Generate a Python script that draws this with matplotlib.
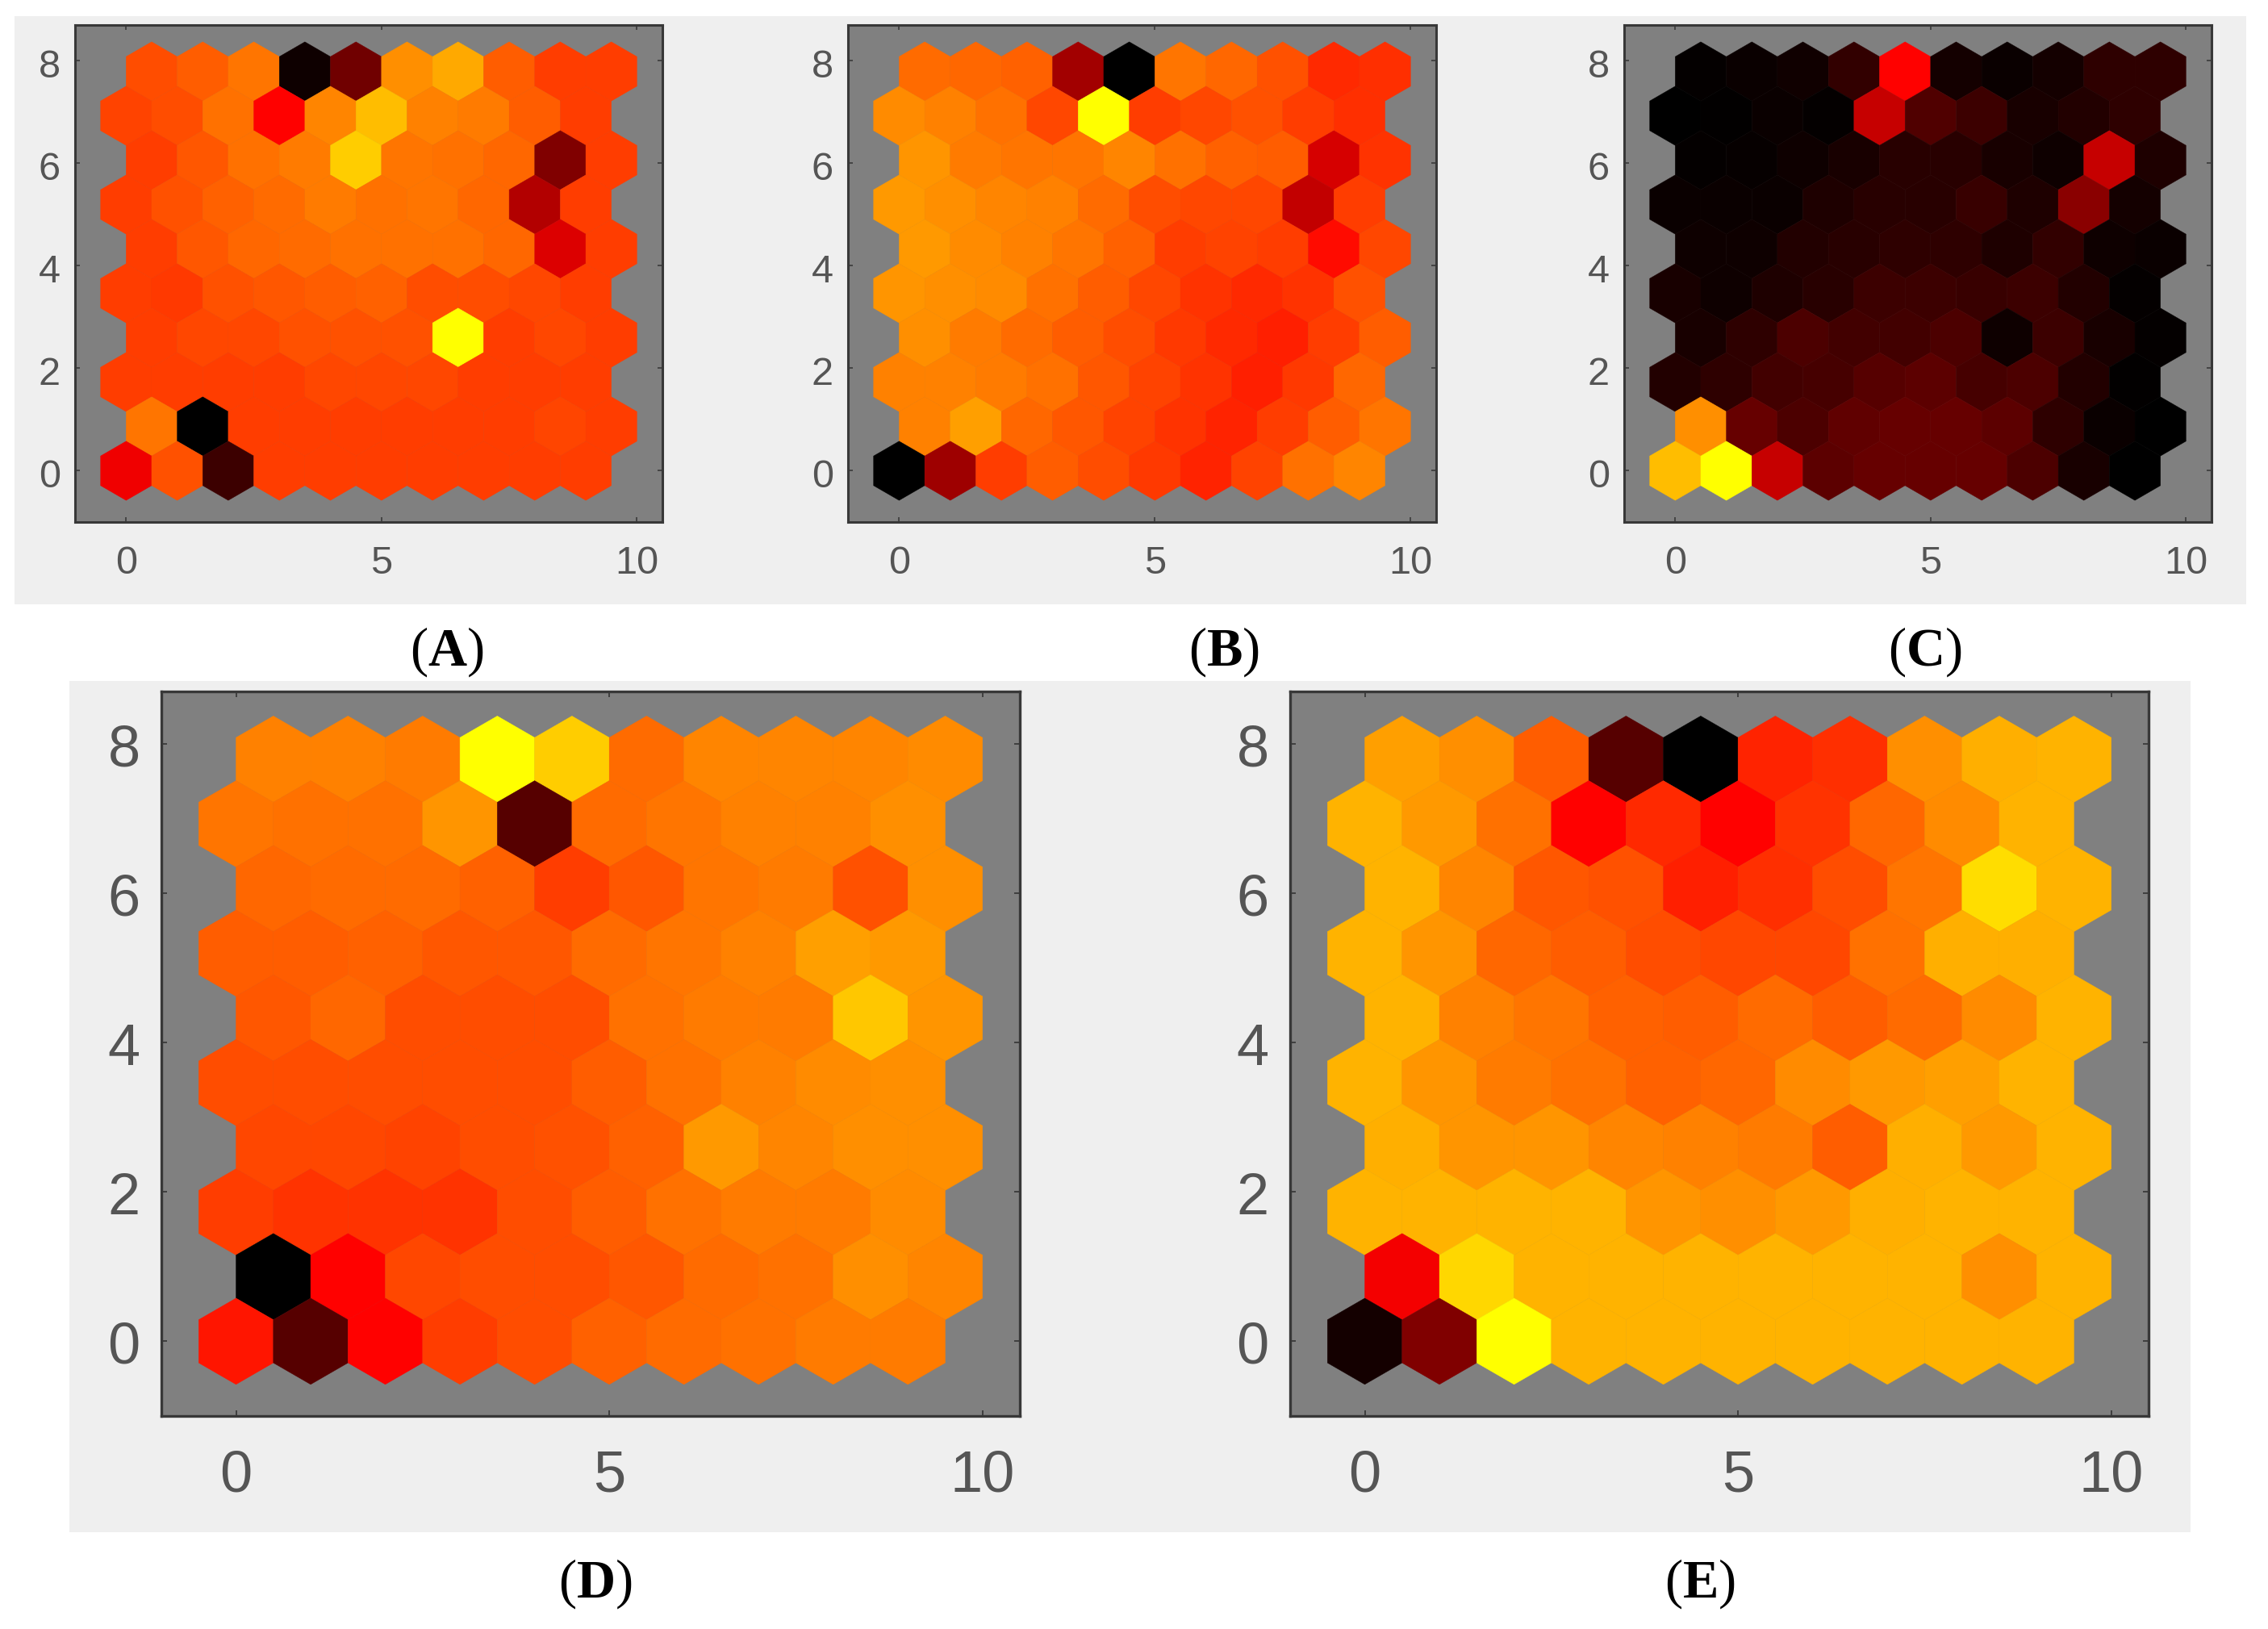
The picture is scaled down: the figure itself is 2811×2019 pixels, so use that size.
import numpy as np
import matplotlib
matplotlib.use("Agg")
import matplotlib.pyplot as plt
from matplotlib.collections import PatchCollection
from matplotlib.colors import LinearSegmentedColormap
from matplotlib.patches import Rectangle, RegularPolygon
from matplotlib.transforms import ScaledTranslation

W, H = 2811, 2019

plt.rcParams['font.family'] = ['Liberation Sans', 'DejaVu Sans']
plt.rcParams['mathtext.fontset'] = 'custom'
plt.rcParams['mathtext.bf'] = 'Liberation Serif:bold'
plt.rcParams['mathtext.rm'] = 'Liberation Serif'

# node values on a 0-100 scale, rows listed from the top of the map to the bottom
panel_a = [
    [65, 68, 73, 3, 22, 78, 83, 68, 62, 62],
    [63, 65, 72, 50, 76, 87, 75, 74, 68, 62],
    [62, 67, 72, 74, 90, 73, 72, 70, 25, 62],
    [62, 66, 69, 71, 74, 72, 73, 70, 35, 62],
    [62, 67, 70, 71, 72, 72, 72, 70, 43, 62],
    [62, 61, 66, 67, 68, 69, 65, 65, 64, 62],
    [62, 64, 64, 66, 66, 66, 100, 62, 64, 62],
    [62, 62, 62, 62, 64, 64, 64, 62, 62, 62],
    [73, 0, 62, 62, 62, 62, 62, 62, 63.5, 62],
    [47, 66, 12, 62, 62, 62, 62, 62, 62, 62],
]
panel_b = [
    [71, 70, 69, 32, 0, 73, 70, 66, 58, 59],
    [77, 75, 72, 64, 100, 62, 64, 66, 62, 59],
    [79, 74, 73, 73, 76, 72, 69, 68, 42, 60],
    [80, 78, 76, 75, 71, 65, 64, 64, 38, 62],
    [80, 77, 75, 73, 69, 62, 63, 62, 52, 64],
    [79, 78, 77, 72, 68, 64, 60, 58, 60, 66],
    [78, 74, 71, 68, 65, 61, 58, 56, 62, 68],
    [75, 75, 74, 72, 67, 63, 60, 56, 61, 70],
    [75, 81, 70, 67, 63, 60, 57, 62, 68, 73],
    [0, 31, 62, 68, 65, 61, 57, 63, 72, 76],
]
panel_c = [
    [1, 2, 3.5, 10, 50, 4, 2, 4, 9, 9],
    [0, 0.5, 2, 1, 39, 16, 12, 5, 7, 9],
    [1, 1.5, 3, 5, 8, 8, 5, 3, 39, 6],
    [2, 2, 2, 6, 8, 8, 11, 6, 27, 4],
    [3, 3, 7, 8, 9, 9, 6, 10, 3, 2],
    [5, 3, 6, 8, 12, 12, 11, 12, 7, 1],
    [5, 9, 15, 13, 13, 15, 3, 12, 5, 1],
    [7, 9, 13, 14, 17, 18, 14, 15, 7, 0.5],
    [78, 20, 15, 19, 20, 20, 18, 9, 2, 0],
    [87, 100, 39, 18, 20, 20, 20, 15, 5, 0],
]
panel_d = [
    [75, 75, 74, 100, 90, 71, 76, 76, 76, 77],
    [73, 72, 72, 79, 17, 71, 73, 75, 75, 78],
    [70, 71, 71, 69, 62, 67, 73, 74, 66, 78],
    [68, 68, 69, 67, 67, 71, 73, 75, 81, 80],
    [67, 70, 65, 65, 65, 72, 74, 74, 89, 79],
    [65, 65, 65, 65, 65, 68, 72, 75, 77, 78],
    [64, 64, 63, 65, 66, 69, 80, 76, 78, 78],
    [62, 60, 60, 60, 65, 68, 72, 74, 74, 77],
    [0, 50, 64, 65, 65, 67, 71, 72, 78, 76],
    [54, 17, 50, 62, 65, 69, 71, 72, 74, 74],
]
panel_e = [
    [81, 78, 68, 17, 0, 57, 59, 78, 84, 85],
    [85, 80, 72, 50, 58, 50, 60, 70, 77, 85],
    [85, 76, 67, 66, 56, 59, 65, 73, 93, 85],
    [85, 79, 70, 68, 65, 64, 64, 72, 84, 84],
    [85, 75, 73, 69, 68, 71, 68, 71, 77, 85],
    [85, 79, 74, 72, 69, 70, 77, 80, 81, 85],
    [84, 79, 79, 76, 75, 74, 68, 84, 80, 85],
    [85, 85, 85, 85, 79, 78, 80, 84, 85, 85],
    [48, 92, 85, 85, 85, 85, 85, 85, 78, 85],
    [4, 25, 100, 85, 85, 85, 85, 85, 85, 85],
]
letters = ['A', 'B', 'C', 'D', 'E']
x_ticks = [0, 5, 10]
y_ticks = [0, 2, 4, 6, 8]

cmap = LinearSegmentedColormap.from_list('som', ['#000000', '#ff0000', '#ffff00'])
fig = plt.figure(figsize=(W / 100, H / 100), dpi=100, facecolor='white')


def box(x0, y0, x1, y1):
    # pixel box (y from the top) to figure fractions
    return [x0 / W, 1 - y1 / H, (x1 - x0) / W, (y1 - y0) / H]


def add_strip(x0, y0, x1, y1):
    l, b, w, h = box(x0, y0, x1, y1)
    fig.add_artist(Rectangle((l, b), w, h, transform=fig.transFigure, fc='#efefef', ec='none', zorder=-1))


def draw_map(rows, rect, label, label_xy, fsize, pad_x, pad_y, lw, tick_len, y_shift):
    ax = fig.add_axes(box(*rect))
    ax.set_facecolor('#808080')
    hexes = []
    values = []
    for i, row in enumerate(rows):
        r = len(rows) - 1 - i
        for c, v in enumerate(row):
            x = c + 0.5 * (r % 2)
            y = r * np.sqrt(3) / 2
            hexes.append(RegularPolygon((x, y), 6, radius=1 / np.sqrt(3)))
            values.append(v)
    pc = PatchCollection(hexes, cmap=cmap, edgecolor='face', linewidth=0.3)
    pc.set_array(np.array(values, dtype=float))
    pc.set_clim(0, 100)
    ax.add_collection(pc)
    ax.set_xlim(-1, 10.5)
    ax.set_ylim(-1, 8.7)
    ax.set_xticks(x_ticks)
    ax.set_yticks(y_ticks)
    ax.tick_params(axis='x', direction='in', top=True, length=tick_len, width=lw * 0.6,
                   color='#404040', labelsize=fsize, labelcolor='#555555', pad=pad_x)
    ax.tick_params(axis='y', direction='in', right=True, length=tick_len, width=lw * 0.6,
                   color='#404040', labelsize=fsize, labelcolor='#555555', pad=pad_y)
    # y labels sit a little under their ticks
    shift = ScaledTranslation(0, -y_shift / 72, fig.dpi_scale_trans)
    for lab in ax.get_yticklabels():
        lab.set_transform(lab.get_transform() + shift)
    for s in ax.spines.values():
        s.set_linewidth(lw)
        s.set_color('#383838')
    fig.text(label_xy[0] / W, 1 - label_xy[1] / H, '($\\mathbf{' + label + '}$)',
             family='Liberation Serif', fontsize=48, color='black', ha='center', va='center')


add_strip(18, 20, 2784, 749)
add_strip(86, 844, 2715, 1899)

draw_map(panel_a, (93, 31, 821, 647), letters[0], (554, 808), 35, 21, 13, 2.2, 4, 2)
draw_map(panel_b, (1051, 31, 1780, 647), letters[1], (1517, 808), 35, 21, 13, 2.2, 4, 2)
draw_map(panel_c, (2013, 31, 2741, 647), letters[2], (2386, 808), 35, 21, 13, 2.2, 4, 2)
draw_map(panel_d, (200, 857, 1264, 1755), letters[3], (738, 1963), 52, 30, 19, 2.4, 5, 1)
draw_map(panel_e, (1599, 857, 2663, 1755), letters[4], (2107, 1963), 52, 30, 19, 2.4, 5, 1)

fig.savefig('out.png', dpi=100)
